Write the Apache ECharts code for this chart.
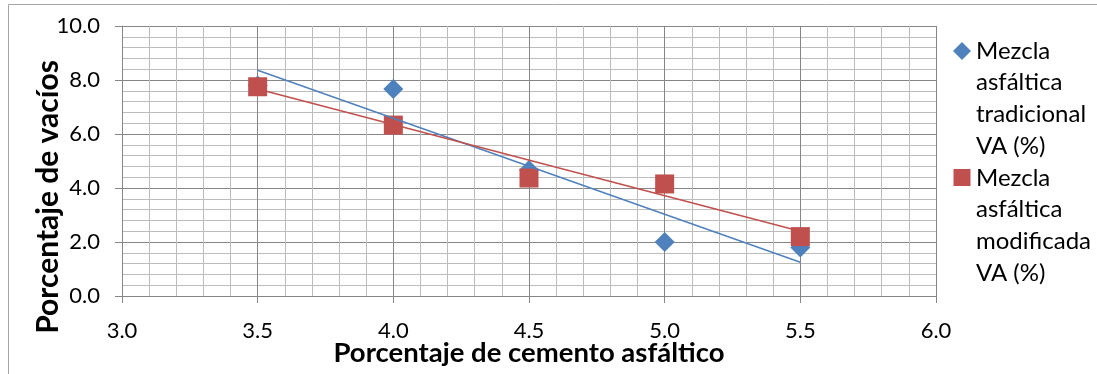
<!DOCTYPE html>
<html>
<head>
<meta charset="utf-8">
<script src="https://cdn.jsdelivr.net/npm/echarts@6/dist/echarts.min.js"></script>
<style>
html,body{margin:0;padding:0;background:#fff;}
#chart{width:1097px;height:374px;}
</style>
</head>
<body>
<div id="chart"></div>
<script>
var xValues = [3.5, 4.0, 4.5, 5.0, 5.5];
var tradicional = [7.8, 7.67, 4.67, 2.0, 1.8];
var modificada = [7.75, 6.33, 4.37, 4.15, 2.2];
var trendX = [3.5, 5.5];
var trendTradicional = [8.36, 1.25];
var trendModificada = [7.67, 2.4];
var seriesNames = ['Mezcla\nasfáltica\ntradicional\nVA (%)', 'Mezcla\nasfáltica\nmodificada\nVA (%)'];
var xTitle = 'Porcentaje de cemento asfáltico';
var yTitle = 'Porcentaje de vacíos';

function pairs(xs, ys) { return xs.map(function (x, i) { return [x, ys[i]]; }); }

var BLUE = '#4F81BD', RED = '#C0504D';
var MAJOR = '#868686', MINOR = '#bcbcbc';
var FONT = 'Lato';
var LH = 31.7;
var ITEM_H = 127;

// legend icons: shape drawn at top of a tall item box so it lines up with the first text line
var diamondIcon = 'path://M9,7 L18,16 L9,25 L0,16 Z M9,0 L9,0 M9,127 L9,127';
var squareIcon = 'path://M0,7 L17,7 L17,24 L0,24 Z M0,0 L0,0 M0,127 L0,127';

var chart = echarts.init(document.getElementById('chart'), null, {renderer: 'canvas'});
function axisCommon() {
  return {
    type: 'value',
    axisLine: {show: true, lineStyle: {color: MAJOR, width: 1}},
    axisTick: {show: true, inside: false, length: 7, lineStyle: {color: MAJOR}},
    splitLine: {show: true, lineStyle: {color: MAJOR, width: 1}},
    minorTick: {show: false, splitNumber: 5},
    minorSplitLine: {show: true, lineStyle: {color: MINOR, width: 1}},
    axisLabel: {color: '#000', fontFamily: FONT, fontSize: 22, formatter: function (v) { return v.toFixed(1); }},
    nameLocation: 'middle',
    nameMoveOverlap: false,
    nameTextStyle: {color: '#000', fontFamily: FONT, fontSize: 27.5, fontWeight: 'bold'}
  };
}
var xAxis = axisCommon();
xAxis.min = 3; xAxis.max = 6; xAxis.interval = 0.5;
xAxis.name = xTitle; xAxis.nameGap = 43;
xAxis.axisLabel.margin = 24;
var yAxis = axisCommon();
yAxis.min = 0; yAxis.max = 10; yAxis.interval = 2;
yAxis.name = yTitle; yAxis.nameGap = 59; yAxis.nameRotate = 90;
yAxis.nameTextStyle.fontSize = 30;
yAxis.nameTextStyle.padding = [0, 72, 0, 0];
yAxis.axisLabel.margin = 22;

chart.setOption({
  animation: false,
  backgroundColor: '#fff',
  grid: {left: 122, right: 161, top: 26, bottom: 78, containLabel: false, outerBoundsMode: 'none'},
  xAxis: xAxis,
  yAxis: yAxis,
  legend: {
    orient: 'vertical',
    left: 948,
    top: 30,
    itemWidth: 18,
    itemHeight: ITEM_H,
    itemGap: 0,
    selectedMode: false,
    textStyle: {color: '#000', fontFamily: FONT, fontSize: 24, lineHeight: LH},
    data: [
      {name: seriesNames[0], icon: diamondIcon},
      {name: seriesNames[1], icon: squareIcon}
    ]
  },
  graphic: [{
    type: 'rect', silent: true, z: -10,
    shape: {x: 8.5, y: 4.5, width: 1300, height: 600},
    style: {fill: 'none', stroke: '#a6a6a6', lineWidth: 1}
  }],
  series: [
    {
      name: seriesNames[0], type: 'scatter', symbol: 'diamond', symbolSize: [20, 20],
      itemStyle: {color: BLUE, opacity: 1}, data: pairs(xValues, tradicional), z: 2
    },
    {
      name: seriesNames[1], type: 'scatter', symbol: 'rect', symbolSize: [19, 19],
      itemStyle: {color: RED, opacity: 1}, data: pairs(xValues, modificada), z: 3
    },
    {
      name: 'trend1', type: 'line', showSymbol: false, symbol: 'none', silent: true,
      lineStyle: {color: BLUE, width: 1.5}, data: pairs(trendX, trendTradicional), z: 4
    },
    {
      name: 'trend2', type: 'line', showSymbol: false, symbol: 'none', silent: true,
      lineStyle: {color: RED, width: 1.5}, data: pairs(trendX, trendModificada), z: 4
    }
  ]
});
</script>
</body>
</html>
